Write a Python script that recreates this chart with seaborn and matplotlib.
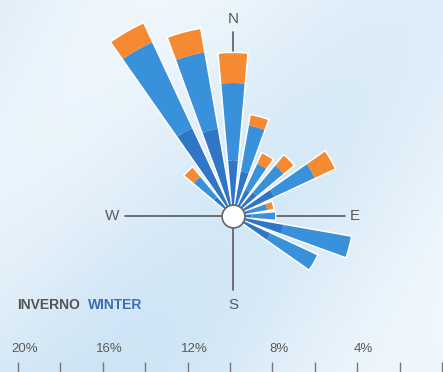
import numpy as np
import matplotlib
matplotlib.use('Agg')
import matplotlib.pyplot as plt
import seaborn as sns

# direzioni (gradi da nord, senso orario) e frequenze per classe di velocita' (%)
direzioni = [315, 330, 345, 0, 15, 30, 45, 60, 75, 90, 105, 120]
blu_scuro = [1.17, 4.57, 4.18, 2.62, 2.14, 1.36, 1.46, 2.14, 0.78, 0.87, 2.43, 1.94]
blu_chiaro = [1.24, 4.47, 3.65, 3.65, 2.19, 1.36, 1.65, 2.11, 0.86, 1.11, 3.21, 2.43]
arancio = [0.56, 0.97, 1.12, 1.41, 0.49, 0.53, 0.61, 1.04, 0.29, 0.0, 0.0, 0.0]

scala_tick = [0, 2, 4, 6, 8, 10, 12, 14, 16, 18, 20]
scala_label = ['0', '4%', '8%', '12%', '16%', '20%']
punti_cardinali = ['N', 'E', 'S', 'W']

sns.set_theme(style='white')
plt.rcParams['font.family'] = ['Liberation Sans', 'DejaVu Sans']

W, H = 443, 372
px = 21.2          # pixel per 1 %
cx, cy = 233, 216  # centro della rosa
rmax = 11

fig = plt.figure(figsize=(W / 100, H / 100), dpi=100)

# sfondo
bg = fig.add_axes([0, 0, 1, 1], zorder=0)
yy, xx = np.mgrid[0:H, 0:W]
grad = 0.5 + 0.25 * np.sin((xx + yy * 0.8) / 90.0) + 0.2 * (xx / W) - 0.15 * (yy / H)
cmap = sns.blend_palette(['#cbe3f4', '#e3f0fa', '#f8fcff'], as_cmap=True)
bg.imshow(grad, cmap=cmap, extent=(0, W, H, 0), aspect='auto', vmin=0.1, vmax=1.0)
bg.set_xlim(0, W)
bg.set_ylim(H, 0)
bg.axis('off')

grigio = '#5a5a5a'
bg.plot([cx, cx], [32, cy], color=grigio, lw=1.2)
bg.plot([125, cx], [cy, cy], color=grigio, lw=1.2)
bg.plot([cx, 345], [cy, cy], color=grigio, lw=1.2)
bg.plot([cx, cx], [cy, 290], color=grigio, lw=1.2)
pos = {'N': (cx, 19), 'E': (355, cy), 'S': (cx, 305), 'W': (112, cy)}
for p in punti_cardinali:
    bg.text(pos[p][0], pos[p][1], p, color=grigio, fontsize=11,
            ha='center', va='center')

bg.text(17, 305, 'INVERNO', color='#555555', fontsize=10, fontweight='bold',
        ha='left', va='center')
bg.text(88, 305, 'WINTER', color='#3a6fb5', fontsize=10, fontweight='bold',
        ha='left', va='center')

# scala
sc = fig.add_axes([0, 0, 1, 1], zorder=0.5)
sc.patch.set_alpha(0)
sc.set_xlim(442 / px, (442 - W) / px)
sc.set_ylim(H, 0)
sc.vlines(scala_tick, 362, 372, color='#777777', lw=1)
for i, lab in enumerate(scala_label):
    v = i * 4
    sc.text(v - 0.3, 349, lab, color=grigio, fontsize=9.5, ha='center', va='center')
sc.axis('off')

# rosa dei venti
ax = fig.add_axes([0, 0, 1, 1], projection='polar', zorder=1)
size = 2 * rmax * px
ax.set_position([(cx - size / 2) / W, (H - cy - size / 2) / H, size / W, size / H])
ax.set_theta_zero_location('N')
ax.set_theta_direction(-1)
ax.set_ylim(0, rmax)
ax.patch.set_alpha(0)
ax.axis('off')

theta = np.deg2rad(direzioni)
larg = np.deg2rad(10)
d = np.array(blu_scuro)
c = np.array(blu_chiaro)
o = np.array(arancio)
tot = d + c + o
ax.bar(theta, tot, width=larg, color='none', edgecolor='white', linewidth=2.2, zorder=1)
ax.bar(theta, d, width=larg, color='#2f76c6', linewidth=0, zorder=2)
ax.bar(theta, c, width=larg, bottom=d, color='#3a91db', linewidth=0, zorder=2)
ax.bar(theta, o, width=larg, bottom=d + c, color='#f58a32', linewidth=0, zorder=2)
ax.scatter([0], [0], s=270, c='white', edgecolors='#666666', linewidths=1.2, zorder=5)

fig.savefig('out.png', dpi=100)
